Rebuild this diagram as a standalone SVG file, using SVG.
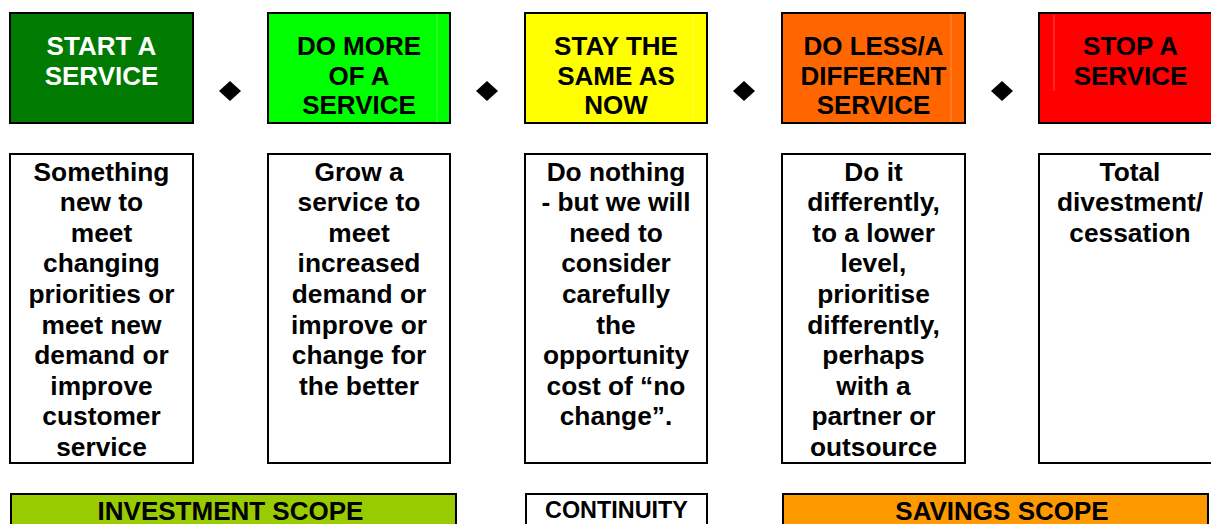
<svg xmlns="http://www.w3.org/2000/svg" width="1211" height="524" viewBox="0 0 1211 524">
  <style>
    .box { stroke: #000; stroke-width: 2; }
    .head { font-family: "Liberation Sans", Arial, sans-serif; font-weight: bold; font-size: 26px; text-anchor: middle; }
    .desc { font-family: "Liberation Sans", Arial, sans-serif; font-weight: bold; font-size: 26.3px; text-anchor: middle; fill: #000; }
    .scope { font-family: "Liberation Sans", Arial, sans-serif; font-weight: bold; font-size: 26px; text-anchor: middle; fill: #000; }
    .seam { stroke: #fff; stroke-opacity: 0.3; stroke-width: 1; }
    .sep { fill: #000; }
  </style>
  <rect width="1211" height="524" fill="#fff"/>

  <!-- headline options -->
  <g id="start">
    <rect class="box" x="10" y="13" width="183" height="110" fill="#007A00"/>
    <text class="head" fill="#fff"><tspan x="101.5" y="55">START A</tspan><tspan x="101.5" y="84.5">SERVICE</tspan></text>
  </g>
  <g id="more">
    <rect class="box" x="268" y="13" width="182" height="110" fill="#00FF00"/>
    <line class="seam" x1="437" y1="14" x2="437" y2="122"/>
    <text class="head" fill="#000"><tspan x="359" y="55">DO MORE</tspan><tspan x="359" y="84.5">OF A</tspan><tspan x="359" y="114">SERVICE</tspan></text>
  </g>
  <g id="same">
    <rect class="box" x="525" y="13" width="182" height="110" fill="#FFFF00"/>
    <line class="seam" x1="693" y1="14" x2="693" y2="122"/>
    <text class="head" fill="#000"><tspan x="616" y="55">STAY THE</tspan><tspan x="616" y="84.5">SAME AS</tspan><tspan x="616" y="114">NOW</tspan></text>
  </g>
  <g id="less">
    <rect class="box" x="782" y="13" width="183" height="110" fill="#FF6600"/>
    <line class="seam" x1="951" y1="14" x2="951" y2="122"/>
    <text class="head" fill="#000"><tspan x="873.5" y="55">DO LESS/A</tspan><tspan x="873.5" y="84.5">DIFFERENT</tspan><tspan x="873.5" y="114">SERVICE</tspan></text>
  </g>
  <g id="stop">
    <rect class="box" x="1039" y="13" width="183" height="110" fill="#FF0000"/>
    <line class="seam" x1="1054" y1="15" x2="1054" y2="91"/>
    <text class="head" fill="#000"><tspan x="1130.5" y="55">STOP A</tspan><tspan x="1130.5" y="84.5">SERVICE</tspan></text>
  </g>

  <!-- separators between options -->
  <g id="connectors">
    <polygon class="sep" points="230,81 241,91 230,101 219,91"/>
    <polygon class="sep" points="487,81 498,91 487,101 476,91"/>
    <polygon class="sep" points="744,81 755,91 744,101 733,91"/>
    <polygon class="sep" points="1002,81 1013,91 1002,101 991,91"/>
  </g>

  <!-- descriptions -->
  <g id="start-desc">
    <rect class="box" x="10" y="154" width="183" height="309" fill="#fff"/>
    <text class="desc"><tspan x="101.5" y="180.5">Something</tspan><tspan x="101.5" y="211.1">new to</tspan><tspan x="101.5" y="241.7">meet</tspan><tspan x="101.5" y="272.3">changing</tspan><tspan x="101.5" y="302.9">priorities or</tspan><tspan x="101.5" y="333.5">meet new</tspan><tspan x="101.5" y="364.1">demand or</tspan><tspan x="101.5" y="394.7">improve</tspan><tspan x="101.5" y="425.3">customer</tspan><tspan x="101.5" y="455.9">service</tspan></text>
  </g>
  <g id="more-desc">
    <rect class="box" x="268" y="154" width="182" height="309" fill="#fff"/>
    <text class="desc"><tspan x="359" y="180.5">Grow a</tspan><tspan x="359" y="211.1">service to</tspan><tspan x="359" y="241.7">meet</tspan><tspan x="359" y="272.3">increased</tspan><tspan x="359" y="302.9">demand or</tspan><tspan x="359" y="333.5">improve or</tspan><tspan x="359" y="364.1">change for</tspan><tspan x="359" y="394.7">the better</tspan></text>
  </g>
  <g id="same-desc">
    <rect class="box" x="525" y="154" width="182" height="309" fill="#fff"/>
    <text class="desc"><tspan x="616" y="180.5">Do nothing</tspan><tspan x="616" y="211.1">- but we will</tspan><tspan x="616" y="241.7">need to</tspan><tspan x="616" y="272.3">consider</tspan><tspan x="616" y="302.9">carefully</tspan><tspan x="616" y="333.5">the</tspan><tspan x="616" y="364.1">opportunity</tspan><tspan x="616" y="394.7">cost of “no</tspan><tspan x="616" y="425.3">change”.</tspan></text>
  </g>
  <g id="less-desc">
    <rect class="box" x="782" y="154" width="183" height="309" fill="#fff"/>
    <text class="desc"><tspan x="873.5" y="180.5">Do it</tspan><tspan x="873.5" y="211.1">differently,</tspan><tspan x="873.5" y="241.7">to a lower</tspan><tspan x="873.5" y="272.3">level,</tspan><tspan x="873.5" y="302.9">prioritise</tspan><tspan x="873.5" y="333.5">differently,</tspan><tspan x="873.5" y="364.1">perhaps</tspan><tspan x="873.5" y="394.7">with a</tspan><tspan x="873.5" y="425.3">partner or</tspan><tspan x="873.5" y="455.9">outsource</tspan></text>
  </g>
  <g id="stop-desc">
    <rect class="box" x="1039" y="154" width="183" height="309" fill="#fff"/>
    <text class="desc"><tspan x="1130" y="180.5">Total</tspan><tspan x="1130" y="211.1">divestment/</tspan><tspan x="1130" y="241.7">cessation</tspan></text>
  </g>

  <!-- scope bands -->
  <g id="investment">
    <rect class="box" x="11" y="494" width="445" height="40" fill="#99CC00"/>
    <text class="scope" x="230.5" y="520">INVESTMENT SCOPE</text>
  </g>
  <g id="continuity">
    <rect class="box" x="526" y="494" width="181" height="40" fill="#fff"/>
    <text class="scope" x="616.5" y="518" style="font-size:23.4px">CONTINUITY</text>
  </g>
  <g id="savings">
    <rect class="box" x="783" y="494" width="425" height="40" fill="#FF9900"/>
    <text class="scope" x="1002" y="520">SAVINGS SCOPE</text>
  </g>
</svg>
